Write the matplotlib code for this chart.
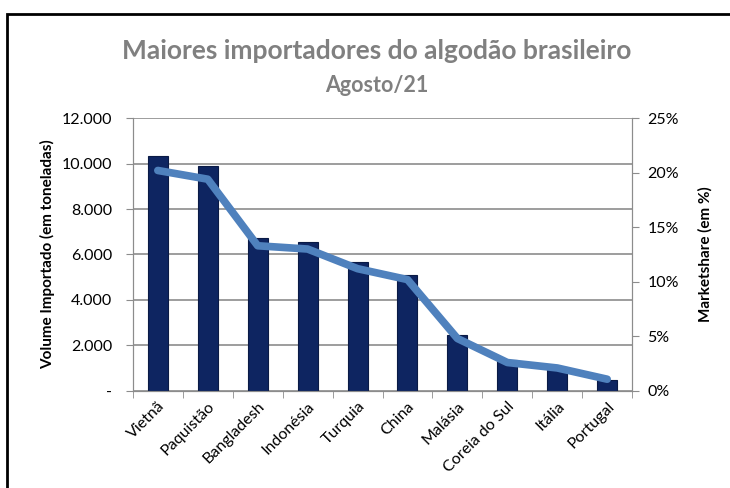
import matplotlib.pyplot as plt
import matplotlib.patches as patches
import numpy as np

paises = ['Vietnã', 'Paquistão', 'Bangladesh', 'Indonésia', 'Turquia', 'China',
          'Malásia', 'Coreia do Sul', 'Itália', 'Portugal']
volume = [10340, 9890, 6740, 6560, 5680, 5100, 2450, 1360, 1070, 480]
share = [20.2, 19.4, 13.3, 13.0, 11.2, 10.2, 4.8, 2.6, 2.1, 1.07]
left_ticks = [0, 2000, 4000, 6000, 8000, 10000, 12000]
left_labels = ['-', '2.000', '4.000', '6.000', '8.000', '10.000', '12.000']
right_ticks = [0, 5, 10, 15, 20, 25]

plt.rcParams['font.family'] = ['Lato', 'DejaVu Sans']

fig = plt.figure(figsize=(7.3, 4.88), dpi=100)
ax = fig.add_axes([0.182, 0.199, 0.684, 0.559])
x = np.arange(len(paises))

ax.bar(x, volume, width=0.4, color='#0E2561', edgecolor='#0A1A45', linewidth=0.8, zorder=3)
ax.set_ylim(0, 12000)
ax.set_xlim(-0.5, len(paises) - 0.5)
ax.set_yticks(left_ticks)
ax.set_yticklabels(left_labels, fontsize=11.5)
ax.yaxis.grid(True, color='#8C8C8C', linewidth=1.2, zorder=0)
ax.set_axisbelow(True)
ax.set_xticks(x)
ax.set_xticklabels(paises, rotation=45, ha='right', rotation_mode='anchor', fontsize=11.5)
ax.tick_params(axis='x', length=0, pad=6)
ax.set_xticks(np.arange(-0.5, len(paises), 1), minor=True)
ax.tick_params(axis='x', which='minor', length=5, color='#8C8C8C')
ax.tick_params(axis='y', length=5, color='#8C8C8C', pad=10)
ax.spines['top'].set_visible(False)
for s in ['left', 'right', 'bottom']:
    ax.spines[s].set_color('#8C8C8C')
ax.set_ylabel('Volume Importado (em toneladas)', fontsize=11, fontweight='bold', labelpad=5)

ax2 = ax.twinx()
ax2.plot(x, share, color='#4F81BD', linewidth=5.5, solid_capstyle='round',
         solid_joinstyle='round', zorder=4)
ax2.set_ylim(0, 25)
ax2.set_yticks(right_ticks)
ax2.set_yticklabels([f'{t}%' for t in right_ticks], fontsize=11.5)
ax2.tick_params(axis='y', length=5, color='#8C8C8C', pad=6)
ax2.spines['top'].set_visible(False)
for s in ['left', 'right', 'bottom']:
    ax2.spines[s].set_color('#8C8C8C')
ax2.set_ylabel('Marketshare (em %)', fontsize=11, fontweight='bold', labelpad=14)

fig.text(0.516, 0.895, 'Maiores importadores do algodão brasileiro', ha='center', va='center',
         fontsize=19, fontweight='bold', color='#808080')
fig.text(0.516, 0.824, 'Agosto/21', ha='center', va='center',
         fontsize=15.5, fontweight='bold', color='#808080')

fig.patches.append(patches.Rectangle((7 / 730, -0.05), 1.0, 1 - 14 / 488 + 0.05,
                                     transform=fig.transFigure, fill=False,
                                     edgecolor='black', linewidth=2))

fig.savefig('out.png', dpi=100)
